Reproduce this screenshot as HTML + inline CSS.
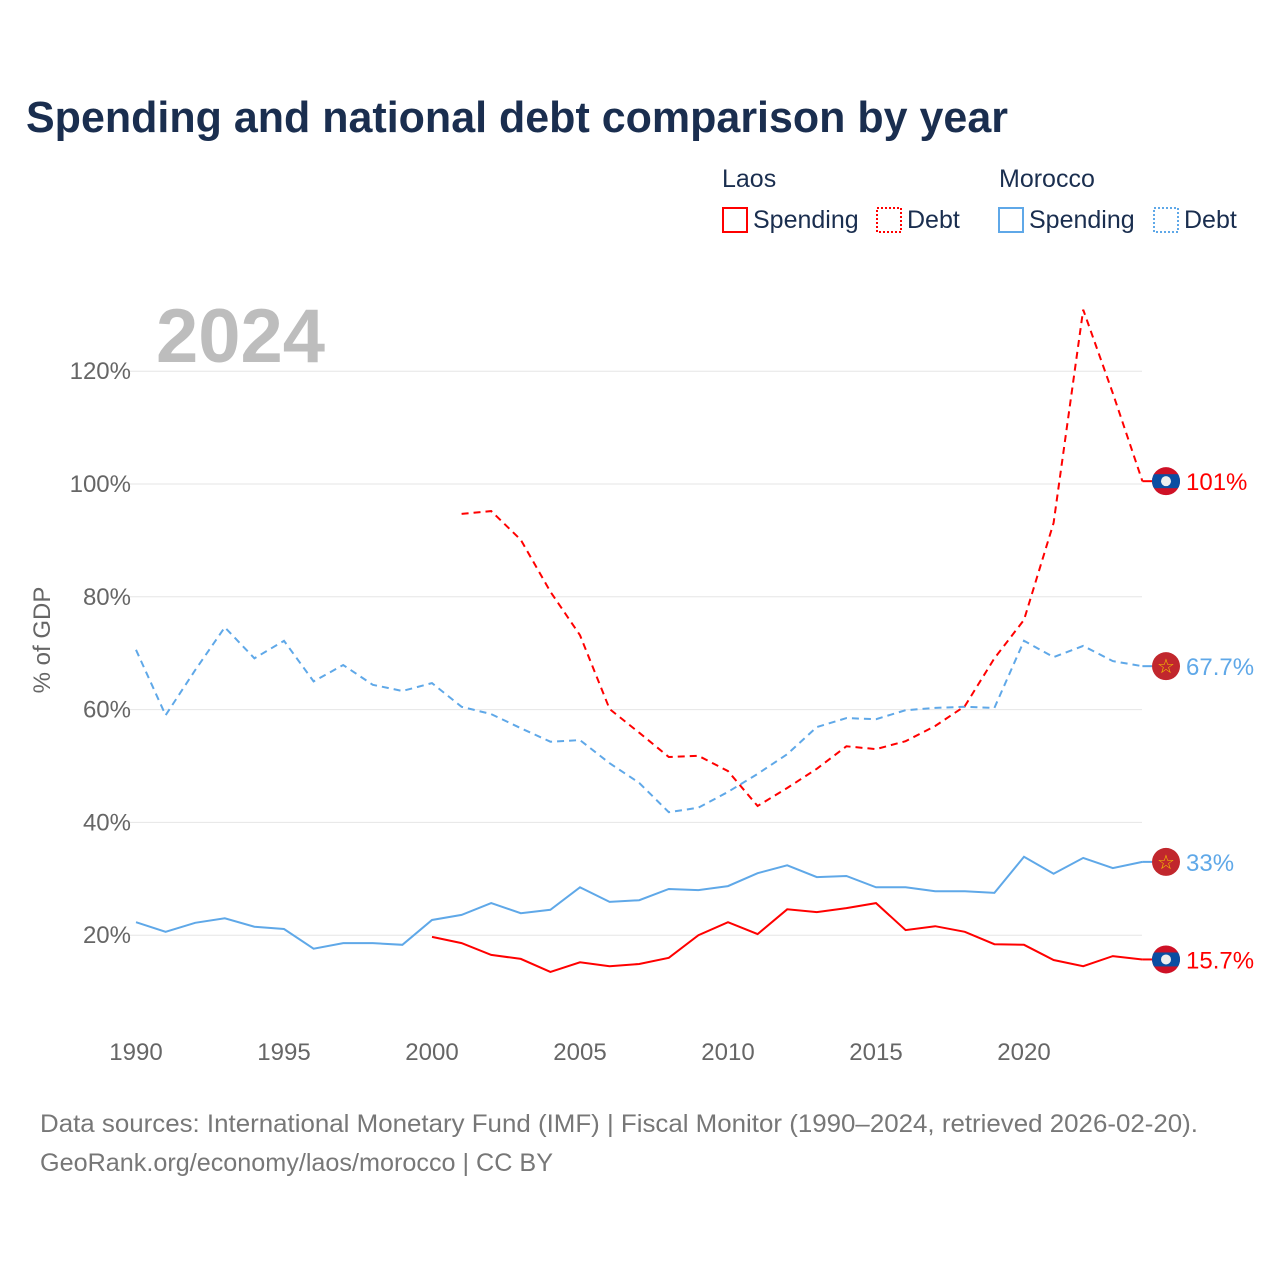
<!DOCTYPE html>
<html><head><meta charset="utf-8"><style>
body{margin:0;background:#fff;font-family:"Liberation Sans",sans-serif}
#wrap{position:relative;width:1280px;height:1280px;overflow:hidden}
</style></head><body>
<div id="wrap">
<svg id="chart" width="1280" height="1280" xmlns="http://www.w3.org/2000/svg">
<text x="26" y="132" font-size="44" font-weight="bold" fill="#1a2e4f" textLength="982" lengthAdjust="spacingAndGlyphs">Spending and national debt comparison by year</text>
<g font-size="25" fill="#1a2e4f">
<text x="722" y="187">Laos</text>
<text x="999" y="187">Morocco</text>
<g><rect x="723" y="208" width="24" height="24" fill="none" stroke="#f00" stroke-width="2"/><text x="753" y="228">Spending</text></g>
<g><rect x="877" y="208" width="24" height="24" fill="none" stroke="#f00" stroke-width="2" stroke-dasharray="2,2"/><text x="907" y="228">Debt</text></g>
<g><rect x="999" y="208" width="24" height="24" fill="none" stroke="#5fa8e8" stroke-width="2"/><text x="1029" y="228">Spending</text></g>
<g><rect x="1154" y="208" width="24" height="24" fill="none" stroke="#5fa8e8" stroke-width="2" stroke-dasharray="2,2"/><text x="1184" y="228">Debt</text></g>
</g>
<text x="156" y="362" font-size="76" font-weight="bold" fill="#bdbdbd">2024</text>
<text transform="translate(50,640) rotate(-90)" text-anchor="middle" font-size="24" fill="#666">% of GDP</text>
<g id="grid"></g><g id="xt"></g><g id="series"></g><g id="ends"></g>
<text x="40" y="1132" font-size="25" fill="#777" textLength="1158" lengthAdjust="spacingAndGlyphs">Data sources: International Monetary Fund (IMF) | Fiscal Monitor (1990–2024, retrieved 2026-02-20).</text>
<text x="40" y="1171" font-size="25" fill="#777" textLength="513" lengthAdjust="spacingAndGlyphs">GeoRank.org/economy/laos/morocco | CC BY</text>
</svg></div>
<script>
const yTicks=[20,40,60,80,100,120];
const xTicks=[1990,1995,2000,2005,2010,2015,2020];
const moroccoDebt=[70.6,59,67,74.6,69.1,72.2,65,67.9,64.4,63.3,64.7,60.5,59.2,56.7,54.3,54.6,50.5,47,41.8,42.6,45.4,48.6,52.1,56.9,58.5,58.3,59.9,60.3,60.5,60.3,72.2,69.3,71.3,68.6,67.7];
const moroccoSpending=[22.3,20.6,22.2,23,21.5,21.1,17.6,18.6,18.6,18.3,22.7,23.6,25.7,23.9,24.5,28.5,25.9,26.2,28.2,28,28.7,31,32.4,30.3,30.5,28.5,28.5,27.8,27.8,27.5,33.9,30.9,33.7,31.9,33];
const laosDebt=[94.7,95.2,90.1,80.9,73.2,60.1,55.9,51.6,51.8,49.1,42.9,46.1,49.5,53.5,53,54.4,57.1,60.6,69.1,75.9,93.1,130.9,116.1,100.5];
const laosSpending=[19.7,18.6,16.5,15.8,13.5,15.2,14.5,14.9,16,20,22.3,20.2,24.6,24.1,24.8,25.7,20.9,21.6,20.6,18.4,18.3,15.6,14.5,16.3,15.7];
const endLabels=["101%","67.7%","33%","15.7%"];
const NS="http://www.w3.org/2000/svg";
const X=y=>136+(y-1990)*29.6, Y=v=>1048-v*5.64;
function mk(t,a,p){const e=document.createElementNS(NS,t);for(const k in a)e.setAttribute(k,a[k]);p.appendChild(e);return e;}
const grid=document.getElementById('grid');
yTicks.forEach(v=>{const l=mk('line',{x1:130,x2:1142,y1:Y(v),y2:Y(v),stroke:'#e6e6e6'},grid);


const t=mk('text',{x:131,y:Y(v)+8,'text-anchor':'end','font-size':24,fill:'#666'},grid);t.textContent=v+'%';

});
const xt=document.getElementById('xt');
xTicks.forEach(v=>{const t=mk('text',{x:X(v),y:1060,'text-anchor':'middle','font-size':24,fill:'#666'},xt);t.textContent=v;

});
const S=document.getElementById('series');
function line(arr,start,color,dash,name){const d=arr.map((v,i)=>(i?'L':'M')+X(start+i).toFixed(1)+','+Y(v).toFixed(1)).join('');
const p=mk('path',{d:d,fill:'none',stroke:color,'stroke-width':2,'stroke-dasharray':dash},S);


const last=arr[arr.length-1];mk('line',{x1:X(2024),x2:1152,y1:Y(last),y2:Y(last),stroke:color,'stroke-width':2},S);}
line(moroccoDebt,1990,'#5fa8e8','7,5','morocco-debt-line');
line(moroccoSpending,1990,'#5fa8e8','none','morocco-spending-line');
line(laosDebt,2001,'#f00','7,5','laos-debt-line');
line(laosSpending,2000,'#f00','none','laos-spending-line');
const E=document.getElementById('ends');
function laos(cy){const g=mk('g',{},E);
mk('clipPath',{id:'c'+cy},g).appendChild(document.createElementNS(NS,'circle'));
const c=g.querySelector('clipPath circle');c.setAttribute('cx',1166);c.setAttribute('cy',cy);c.setAttribute('r',14);
const gg=mk('g',{'clip-path':'url(#c'+cy+')'},g);
mk('rect',{x:1150,y:cy-15,width:32,height:30,fill:'#ce1126'},gg);mk('rect',{x:1150,y:cy-7,width:32,height:14,fill:'#0a4ea2'},gg);
mk('circle',{cx:1166,cy:cy,r:5,fill:'#eee'},gg);}
function mor(cy){const g=mk('g',{},E);
mk('circle',{cx:1166,cy:cy,r:14,fill:'#c1272d'},g);
const t=mk('text',{x:1166,y:cy+7,'text-anchor':'middle','font-size':20,fill:'#f5c400'},g);t.textContent='☆';}
const vals=[laosDebt[laosDebt.length-1],moroccoDebt[moroccoDebt.length-1],moroccoSpending[moroccoSpending.length-1],laosSpending[laosSpending.length-1]];
const cols=['#f00','#5fa8e8','#5fa8e8','#f00'];
vals.forEach((v,i)=>{const cy=Y(v);(i==0||i==3)?laos(cy):mor(cy);
const t=mk('text',{x:1186,y:cy+9,'font-size':24,fill:cols[i]},E);t.textContent=endLabels[i];

});
</script>
</body></html>
